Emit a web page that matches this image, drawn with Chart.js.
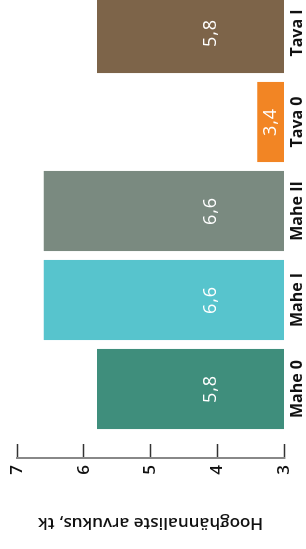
<!DOCTYPE html>
<html>
<head>
<meta charset="utf-8">
<script src="https://cdn.jsdelivr.net/npm/chart.js@4"></script>
<style>
  html, body { margin: 0; padding: 0; background: #fff; overflow: hidden; }
  body { width: 306px; height: 549px; position: relative; }
  /* chart is drawn upright, then turned a quarter to the left */
  #wrap {
    position: absolute; left: 0; top: 0;
    width: 580px; height: 306px;
    transform-origin: 0 0;
    transform: translate(0, 549px) rotate(-90deg);
  }
</style>
</head>
<body>
<div id="wrap"><canvas id="chart" width="580" height="306"></canvas></div>
<script>
// data
const categories = ["Mahe 0", "Mahe I", "Mahe II", "Tava 0", "Tava I"];
const values = [5.8, 6.6, 6.6, 3.4, 5.8];
const barColors = ["#3f8e7c", "#57c4cd", "#7a8a80", "#f28524", "#7d6449"];
const yTicks = [3, 4, 5, 6, 7];
const yTitle = "Hooghännaliste arvukus, tk";

const fontFamily = "'Open Sans', 'DejaVu Sans', sans-serif";
Chart.defaults.font.family = fontFamily;
Chart.defaults.color = "#111";

// white value labels inside the bars, comma as decimal mark
const barLabels = {
    id: "barLabels",
    afterDatasetsDraw(chart) {
        const ctx = chart.ctx;
        const yScale = chart.scales.y;
        const meta = chart.getDatasetMeta(0);
        const base = yScale.getPixelForValue(yTicks[0]);
        ctx.save();
        ctx.fillStyle = "#fff";
        ctx.font = "500 18px " + fontFamily;
        ctx.letterSpacing = "1px";
        ctx.textAlign = "center";
        ctx.textBaseline = "middle";
        meta.data.forEach(function(bar, i) {
            let top = yScale.getPixelForValue(values[i]);
            let mid = (top + base) / 2;
            // tall bars keep the label near the base, short ones center it
            let y = Math.max(mid, base - 73);
            ctx.fillText(values[i].toFixed(1).replace(".", ","), bar.x, y);
        });
        ctx.restore();
    }
};

new Chart(document.getElementById("chart"), {
    type: "bar",
    data: {
        labels: categories,
        datasets: [{
            data: values,
            backgroundColor: barColors,
            borderWidth: 0,
            barPercentage: 0.9,
            categoryPercentage: 1.0,
            yAxisID: "y"
        }]
    },
    options: {
        responsive: false,
        animation: false,
        devicePixelRatio: 1,
        layout: { padding: { top: 17, right: 19.5, bottom: 0, left: 0 } },
        plugins: {
            legend: { display: false },
            tooltip: { enabled: false }
        },
        scales: {
            x: {
                grid: { display: false, drawTicks: false },
                border: { display: false },
                ticks: {
                    padding: 4,
                    color: "#111",
                    font: { size: 16, weight: "bold" }
                },
                afterFit(s) { s.height = 22; }
            },
            y: {
                position: "left",
                weight: 1,
                min: yTicks[0],
                max: yTicks[yTicks.length - 1],
                afterBuildTicks(s) { s.ticks = yTicks.map(v => ({ value: v })); },
                ticks: {
                    padding: 21,
                    color: "#111",
                    font: { size: 17, weight: "600" }
                },
                grid: {
                    drawOnChartArea: false,
                    drawTicks: true,
                    tickLength: -14,
                    tickColor: "#333",
                    tickWidth: 1.5
                },
                border: { display: true, color: "#888", width: 2 },
                title: {
                    display: true,
                    text: yTitle,
                    color: "#111",
                    padding: { top: 16, bottom: 0 },
                    font: { size: 17, weight: "600" }
                },
                afterFit(s) {
                    s.width = 91;
                    s.paddingTop = 0;
                    s.paddingBottom = 0;
                }
            },
            // empty gap between the value axis and the first bar
            ySpace: {
                position: "left",
                weight: 0,
                min: yTicks[0],
                max: yTicks[yTicks.length - 1],
                ticks: { display: false },
                grid: { display: false },
                border: { display: false },
                afterFit(s) {
                    s.width = 24.5;
                    s.paddingTop = 0;
                    s.paddingBottom = 0;
                }
            }
        }
    },
    plugins: [barLabels]
});
</script>
</body>
</html>
